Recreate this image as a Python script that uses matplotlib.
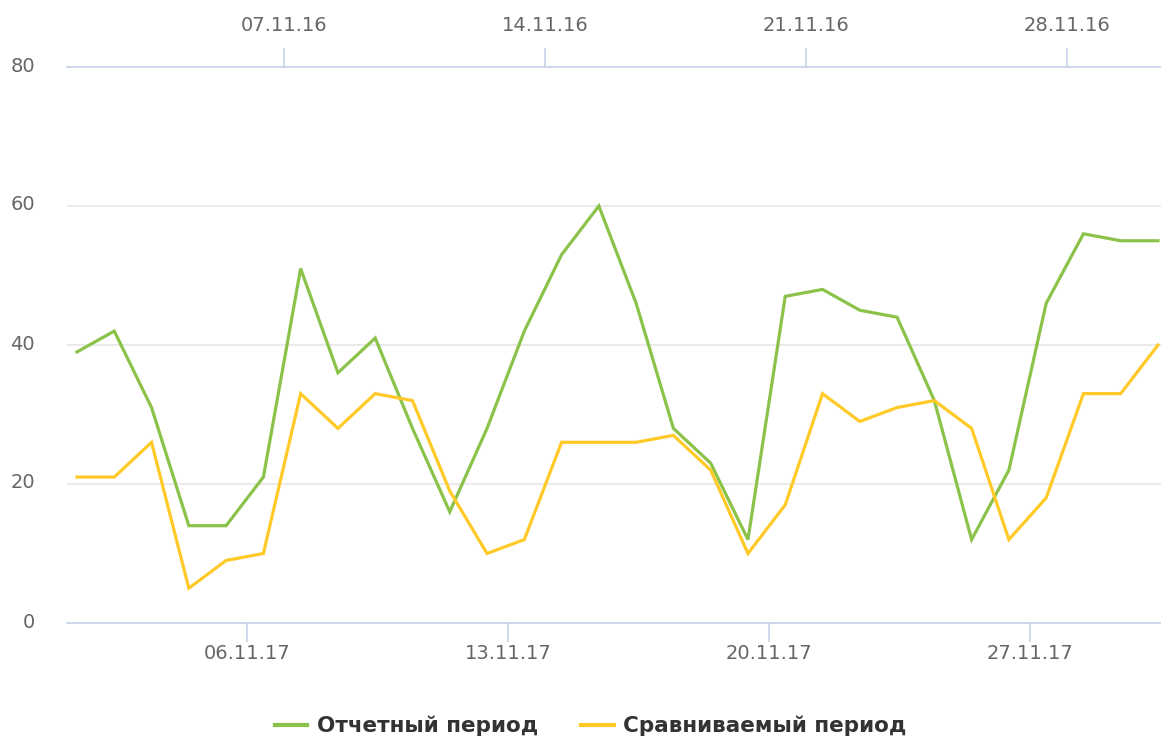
import matplotlib
matplotlib.use("Agg")
import matplotlib.pyplot as plt
import matplotlib.transforms as mtransforms
import numpy as np

# daily values, 01.11 .. 30.11
report_period = [39, 42, 31, 14, 14, 21, 51, 36, 41, 28, 16, 28, 42, 53, 60,
                 46, 28, 23, 12, 47, 48, 45, 44, 32, 12, 22, 46, 56, 55, 55]
compare_period = [21, 21, 26, 5, 9, 10, 33, 28, 33, 32, 19, 10, 12, 26, 26,
                  26, 27, 22, 10, 17, 33, 29, 31, 32, 28, 12, 18, 33, 33, 40]

bottom_tick_days = [6, 13, 20, 27]
bottom_tick_labels = ["06.11.17", "13.11.17", "20.11.17", "27.11.17"]
top_tick_days = [7, 14, 21, 28]
top_tick_labels = ["07.11.16", "14.11.16", "21.11.16", "28.11.16"]
y_ticks = [0, 20, 40, 60, 80]

legend_labels = ["Отчетный период", "Сравниваемый период"]
GREEN = "#8bc34a"
YELLOW = "#ffca28"
AXIS_COLOR = "#ccd6eb"
GRID_COLOR = "#e6e6e6"
LABEL_COLOR = "#666666"

# ticks sit at midnight, points are ~0.44 day before
TICK_SHIFT = 0.44

W, H = 1161, 738
fig = plt.figure(figsize=(W / 100, H / 100), dpi=100)
ax = fig.add_axes([67 / W, (H - 623) / H, (W - 67) / W, (623 - 67) / H])

x = np.arange(len(report_period))
ax.plot(x, report_period, color=GREEN, lw=2.3, label=legend_labels[0], zorder=3,
        solid_joinstyle="miter")
ax.plot(x, compare_period, color=YELLOW, lw=2.3, label=legend_labels[1], zorder=3,
        solid_joinstyle="miter")

ax.set_xlim(-10 / 37.28, 29 + 3 / 37.28)
ax.set_ylim(0, 80)

for s in ["left", "right"]:
    ax.spines[s].set_visible(False)
ax.spines["bottom"].set_color(AXIS_COLOR)
ax.spines["bottom"].set_linewidth(1.3)
ax.spines["top"].set_visible(False)

ax.set_yticks(y_ticks)
ax.set_yticklabels([str(v) for v in y_ticks])
ax.tick_params(axis="y", length=0, pad=23, labelsize=14, labelcolor=LABEL_COLOR)
# highcharts puts y labels a few px above the grid line
shift = mtransforms.ScaledTranslation(0, 3 / 100, fig.dpi_scale_trans)
for lbl in ax.get_yticklabels():
    lbl.set_transform(lbl.get_transform() + shift)
ax.grid(axis="y", color=GRID_COLOR, lw=1.2, zorder=0)

ax.set_xticks([d - 1 - TICK_SHIFT for d in bottom_tick_days])
ax.set_xticklabels(bottom_tick_labels)
ax.tick_params(axis="x", length=13.5, width=1.3, color=AXIS_COLOR, pad=1.5,
               labelsize=14, labelcolor=LABEL_COLOR)

top = ax.twiny()
top.set_xlim(ax.get_xlim())
top.set_xticks([d - 1 - TICK_SHIFT for d in top_tick_days])
top.set_xticklabels(top_tick_labels)
top.tick_params(axis="x", length=13.5, width=1.3, color=AXIS_COLOR, pad=9.5,
                labelsize=14, labelcolor=LABEL_COLOR)
for s in ["left", "right", "bottom"]:
    top.spines[s].set_visible(False)
top.spines["top"].set_color(AXIS_COLOR)
top.spines["top"].set_linewidth(1.3)

leg = fig.legend(loc="center", bbox_to_anchor=(591 / W, 1 - 726 / H), ncol=2,
                 frameon=False, handlelength=1.5, handletextpad=0.45,
                 columnspacing=2.0, prop={"weight": "bold", "size": 15.5})
for t in leg.get_texts():
    t.set_color("#333333")
for h in leg.get_lines():
    h.set_linewidth(3)

fig.savefig("out.png", dpi=100)
